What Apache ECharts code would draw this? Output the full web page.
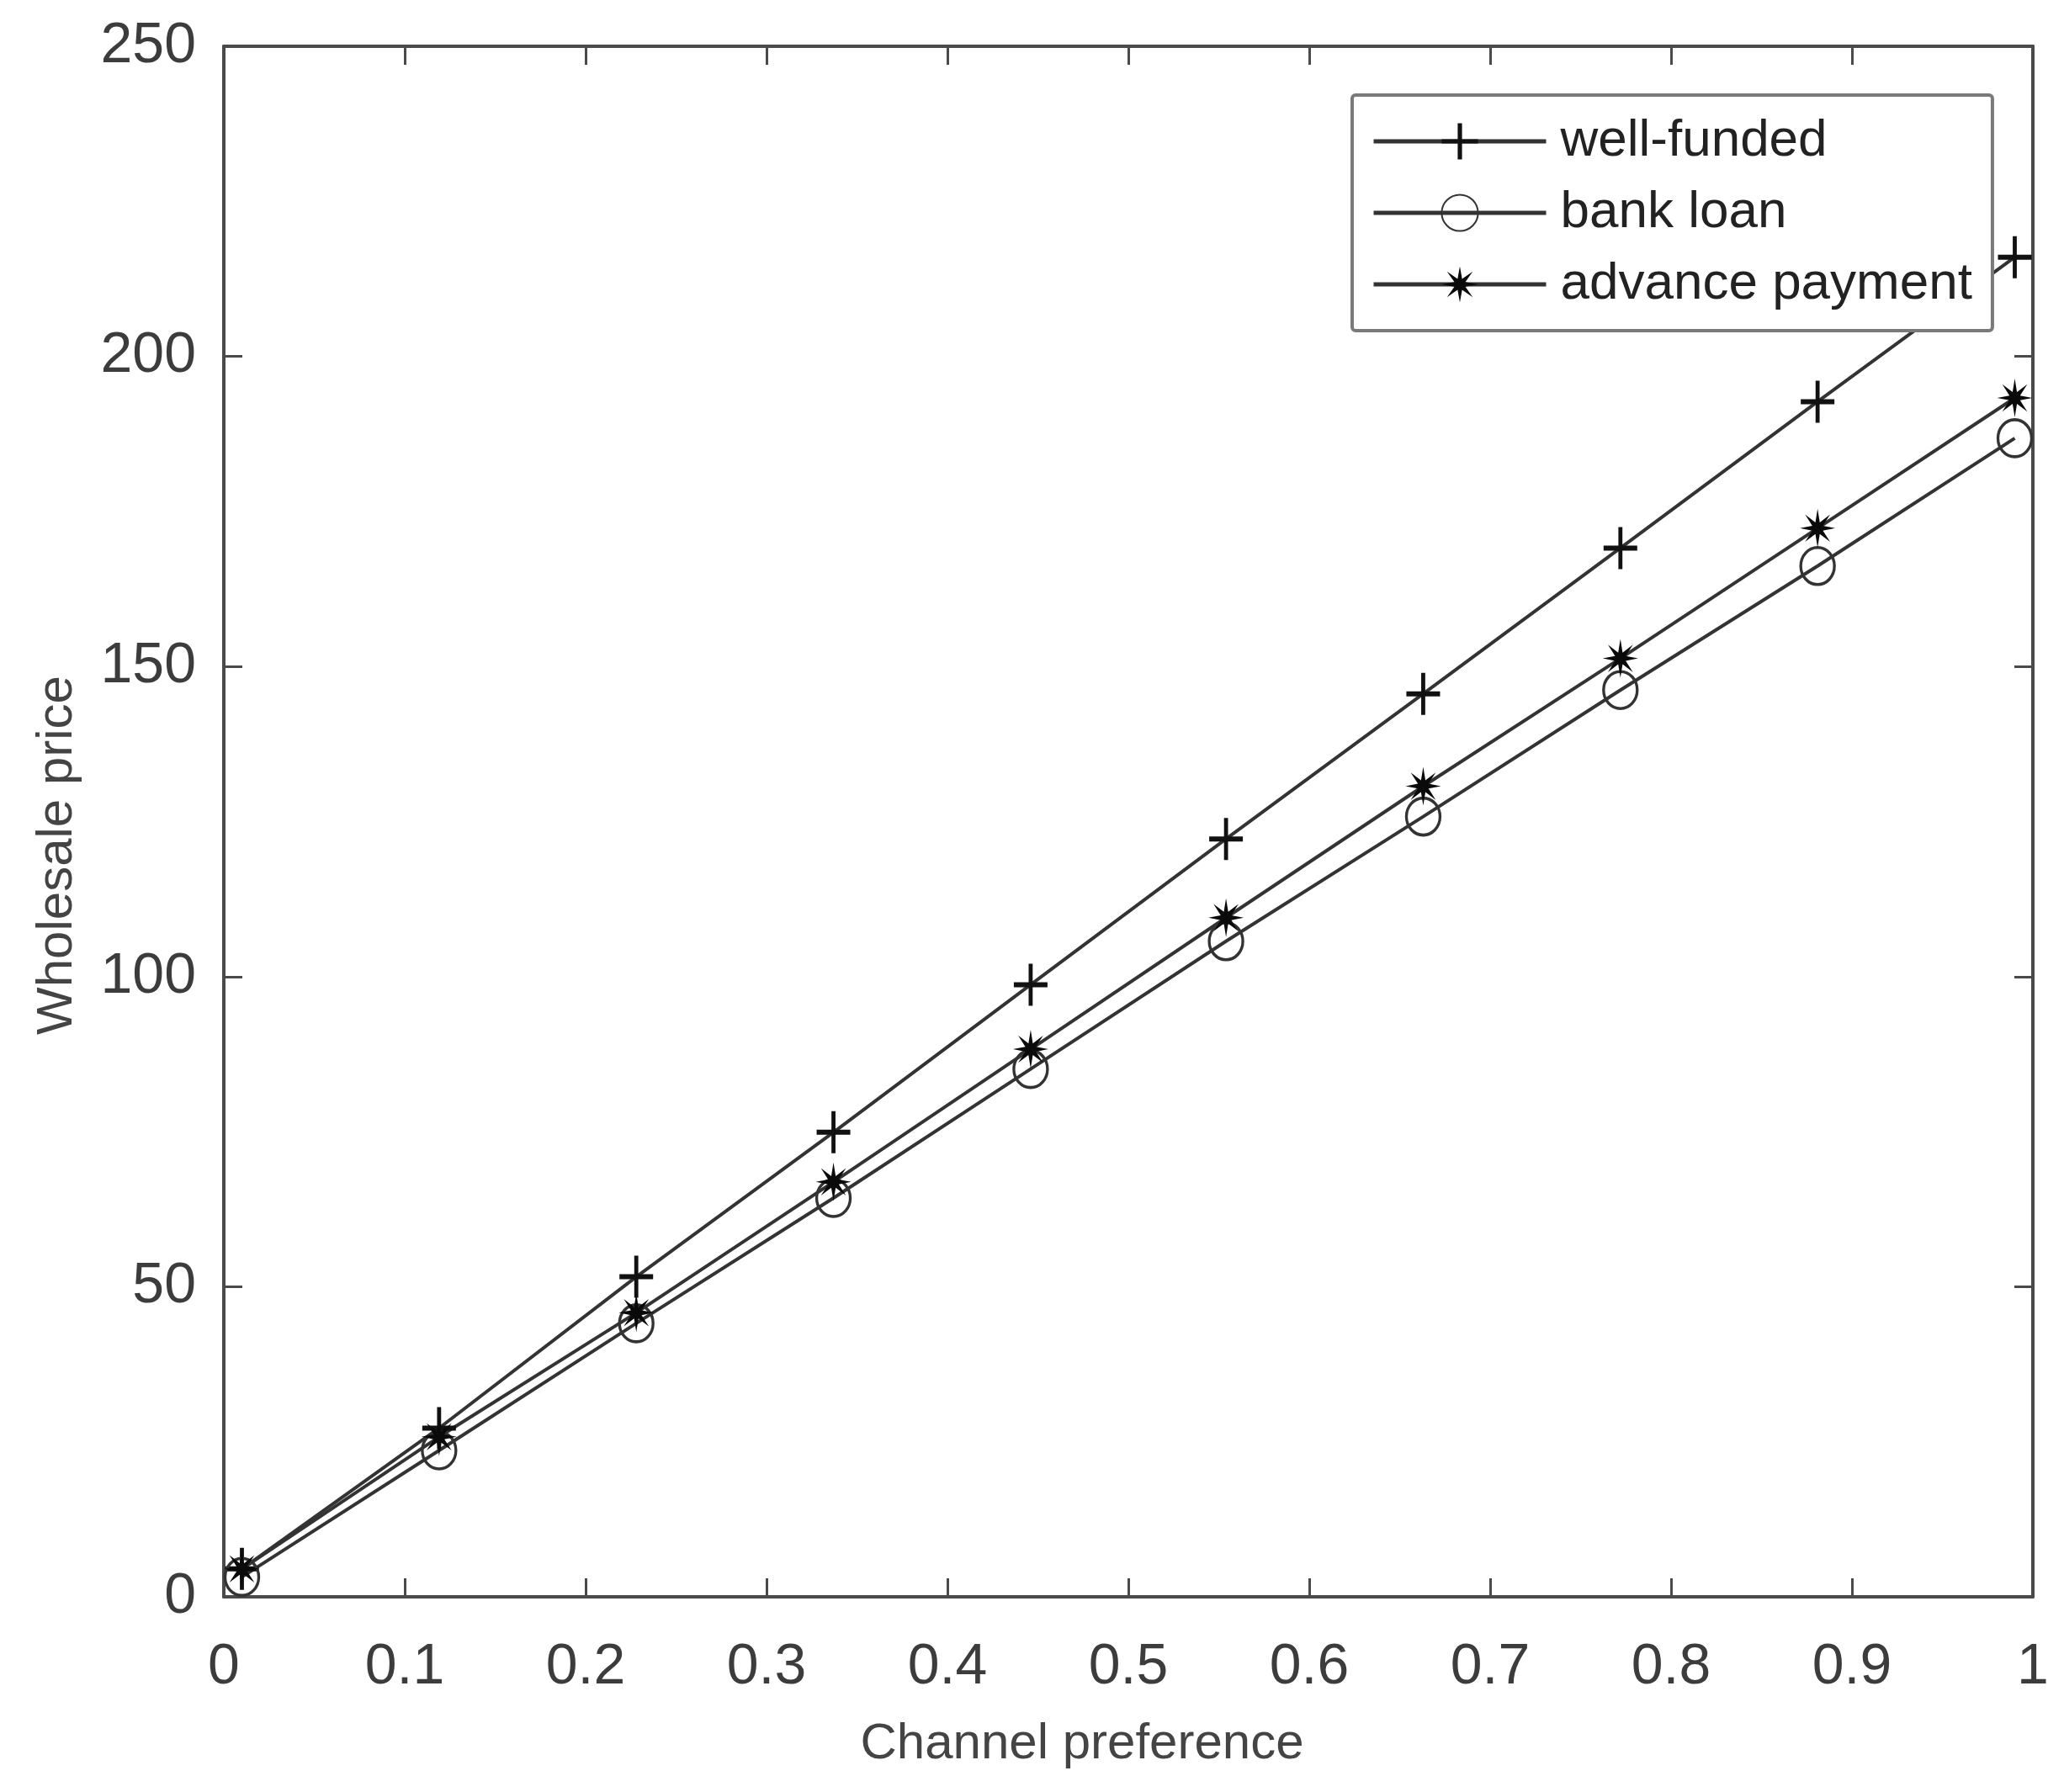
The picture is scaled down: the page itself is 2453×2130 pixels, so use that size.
<!DOCTYPE html>
<html>
<head>
<meta charset="utf-8">
<style>
  html, body { margin: 0; padding: 0; background: #fff; }
  #chart { width: 2453px; height: 2130px; }
</style>
<script src="https://cdn.jsdelivr.net/npm/echarts@6/dist/echarts.min.js"></script>
</head>
<body>
<div id="chart"></div>
<script>
// x positions of the markers (channel preference)
const channelPref = [0.01, 0.119, 0.228, 0.337, 0.446, 0.554, 0.663, 0.772, 0.881, 0.99]
// wholesale price per financing mode
const wellFunded = [4.5, 27.2, 51.6, 74.9, 98.7, 122.2, 145.6, 169.1, 192.7, 216]
const bankLoan = [3.2, 23.6, 44.1, 64.3, 85.1, 105.7, 125.8, 146.2, 166.2, 186.8]
const advancePayment = [4.5, 25.8, 45.8, 66.9, 88.3, 109.5, 130.7, 151.3, 172.3, 193.3]
const seriesNames = ['well-funded', 'bank loan', 'advance payment']

const xRange = [0, 1]
const yRange = [0, 250]
const xStep = 0.1
const yStep = 50

const FONT = '"Liberation Sans", Arial, Helvetica, sans-serif'
const AXIS_COLOR = '#4a4a4a'
const LINE_COLOR = '#333'

// marker shapes, matlab style
const plusSymbol = 'path://M17.6,0H22.4V17.6H40V22.4H22.4V40H17.6V22.4H0V17.6H17.6Z'
function asteriskSymbol(n, ro, ri) {
  let d = ''
  for (let i = 0; i < n * 2; i++) {
    const a = Math.PI * i / n - Math.PI / 2
    const r = i % 2 ? ri : ro
    d += (i ? 'L' : 'M') + (20 + r * Math.cos(a)).toFixed(2) + ',' + (20 + r * Math.sin(a)).toFixed(2)
  }
  return 'path://' + d + 'Z'
}

const zip = (xs, ys) => xs.map((x, i) => [x, ys[i]])

const chart = echarts.init(document.getElementById('chart'))

// shared look for the box axes (ticks pointing inward)
function boxAxis(extra) {
  return Object.assign({
    type: 'value',
    axisLine: { show: true, onZero: false, lineStyle: { color: AXIS_COLOR, width: 4 } },
    axisTick: { show: true, inside: true, length: 22, lineStyle: { color: AXIS_COLOR, width: 3 } },
    splitLine: { show: false },
  }, extra)
}

const tickLabel = {
  fontFamily: FONT,
  fontSize: 68,
  color: '#3c3c3c',
}

chart.setOption({
  animation: false,
  backgroundColor: '#fff',
  grid: { left: 266, top: 55, right: 37, bottom: 232, containLabel: false },
  xAxis: [
    boxAxis({
      position: 'bottom',
      min: xRange[0], max: xRange[1], interval: xStep,
      axisLabel: Object.assign({ margin: 50 }, tickLabel),
      name: 'Channel preference',
      nameLocation: 'middle',
      nameGap: 145,
      nameTextStyle: { fontFamily: FONT, fontSize: 60, color: '#444', padding: [0, 110, 0, 0] },
    }),
    boxAxis({
      position: 'top',
      min: xRange[0], max: xRange[1], interval: xStep,
      axisLabel: { show: false },
    }),
  ],
  yAxis: [
    boxAxis({
      position: 'left',
      min: yRange[0], max: yRange[1], interval: yStep,
      axisLabel: Object.assign({ margin: 33 }, tickLabel),
      name: 'Wholesale price',
      nameLocation: 'middle',
      nameGap: 168,
      nameTextStyle: { fontFamily: FONT, fontSize: 60, color: '#444', padding: [0, 80, 0, 0] },
    }),
    boxAxis({
      position: 'right',
      min: yRange[0], max: yRange[1], interval: yStep,
      axisLabel: { show: false },
    }),
  ],
  legend: {
    data: seriesNames,
    orient: 'vertical',
    left: 1607,
    top: 113,
    itemWidth: 205,
    itemHeight: 54,
    itemGap: 23,
    padding: [24, 24, 24, 23],
    backgroundColor: '#fff',
    borderColor: '#7a7a7a',
    borderWidth: 4,
    borderRadius: 4,
    lineStyle: { color: LINE_COLOR, width: 5 },
    textStyle: { fontFamily: FONT, fontSize: 62, color: '#222', padding: [0, 0, 0, 12], lineHeight: 52 },
  },
  series: [
    {
      name: seriesNames[0],
      type: 'line',
      data: zip(channelPref, wellFunded),
      symbol: plusSymbol,
      symbolSize: [40, 50],
      lineStyle: { color: LINE_COLOR, width: 4 },
      itemStyle: { color: '#111' },
    },
    {
      name: seriesNames[1],
      type: 'line',
      data: zip(channelPref, bankLoan),
      symbol: 'circle',
      symbolSize: [40, 44],
      lineStyle: { color: LINE_COLOR, width: 4 },
      itemStyle: { color: 'rgba(255,255,255,0)', borderColor: '#333', borderWidth: 3.5 },
    },
    {
      name: seriesNames[2],
      type: 'line',
      data: zip(channelPref, advancePayment),
      symbol: asteriskSymbol(8, 20, 6.5),
      symbolSize: [42, 46],
      lineStyle: { color: LINE_COLOR, width: 4 },
      itemStyle: { color: '#0a0a0a' },
    },
  ],
})
</script>
</body>
</html>
